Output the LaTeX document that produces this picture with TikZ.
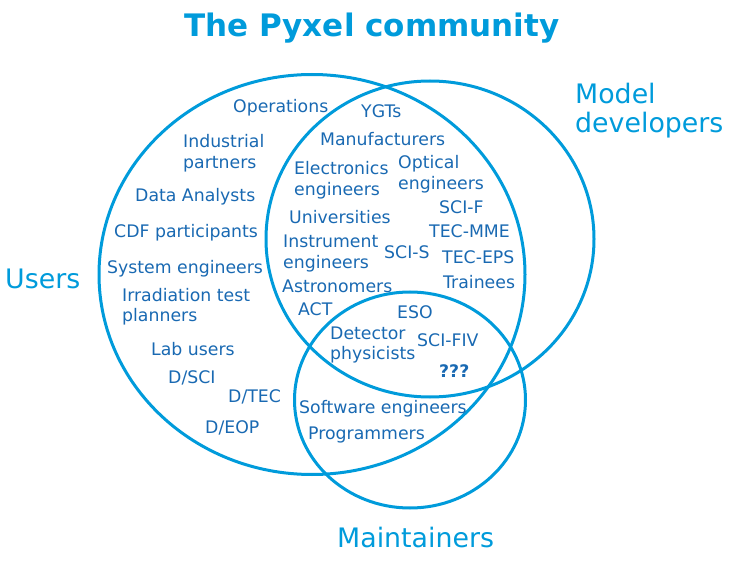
\documentclass[tikz,border=0pt]{standalone}
\usepackage{fontspec}
\setmainfont{DejaVu Sans}
\definecolor{pyxblue}{RGB}{0,155,219}
\definecolor{itemblue}{RGB}{25,105,178}
\tikzset{
  item/.style={anchor=base west, inner sep=0pt, text=itemblue, align=left,
    font=\fontsize{17.3}{20.5}\selectfont},
  setlabel/.style={anchor=base west, inner sep=0pt, text=pyxblue, align=left,
    font=\fontsize{26.8}{29}\selectfont},
  setring/.style={draw=pyxblue, line width=3pt}
}
\begin{document}
\begin{tikzpicture}[x=1pt,y=-1pt]
    \useasboundingbox (0,0) rectangle (734,564);

    % the three sets
    \draw[setring] (312,274.5) ellipse [x radius=213, y radius=200];
    \draw[setring] (430,239) ellipse [x radius=164, y radius=158];
    \draw[setring] (410,400) ellipse [x radius=115.5, y radius=108];

    % multi-line nodes sit on the baseline of their last line
    \node[anchor=base, inner sep=0pt, text=pyxblue, font=\fontsize{31}{36}\selectfont\bfseries]
        (title) at (372,37) {The Pyxel community};
    \node[setlabel] (users) at (5,289) {Users};
    \node[setlabel] (model) at (575,133) {Model\\developers};
    \node[setlabel] (maint) at (337,547) {Maintainers};

    % users only
    \node[item] (ops) at (233,113) {Operations};
    \node[item] (indpart) at (183,168.5) {Industrial\\partners};
    \node[item] (data) at (135,202) {Data Analysts};
    \node[item] (cdf) at (114,238) {CDF participants};
    \node[item] (syseng) at (107,273) {System engineers};
    \node[item] (irrad) at (122,321.5) {Irradiation test\\planners};
    \node[item] (lab) at (151,355) {Lab users};
    \node[item] (dsci) at (168,383) {D/SCI};
    \node[item] (dtec) at (228,402) {D/TEC};
    \node[item] (deop) at (205,433) {D/EOP};

    % users and model developers
    \node[item] (ygt) at (361,118) {YGTs};
    \node[item] (manuf) at (320,146) {Manufacturers};
    \node[item] (elec) at (294,195.5) {Electronics\\engineers};
    \node[item] (optic) at (398,189.5) {Optical\\engineers};
    \node[item] (univ) at (289,224) {Universities};
    \node[item] (instr) at (283,268.5) {Instrument\\engineers};
    \node[item] (astro) at (282,292) {Astronomers};
    \node[item] (scif) at (439,214) {SCI-F};
    \node[item] (tecmme) at (429,238) {TEC-MME};
    \node[item] (scis) at (384,259) {SCI-S};
    \node[item] (teceps) at (442,264) {TEC-EPS};
    \node[item] (train) at (443,288) {Trainees};
    \node[item] (act) at (298,316) {ACT};

    % all three
    \node[item] (eso) at (397,318) {ESO};
    \node[item] (detect) at (330,359.5) {Detector\\physicists};
    \node[item] (scifiv) at (417,346) {SCI-FIV};
    \node[item, font=\fontsize{17.3}{20.5}\selectfont\bfseries] (unknown) at (439,377) {???};

    % users and maintainers
    \node[item] (soft) at (299,413) {Software engineers};
    \node[item] (prog) at (308,439) {Programmers};
\end{tikzpicture}
\end{document}
